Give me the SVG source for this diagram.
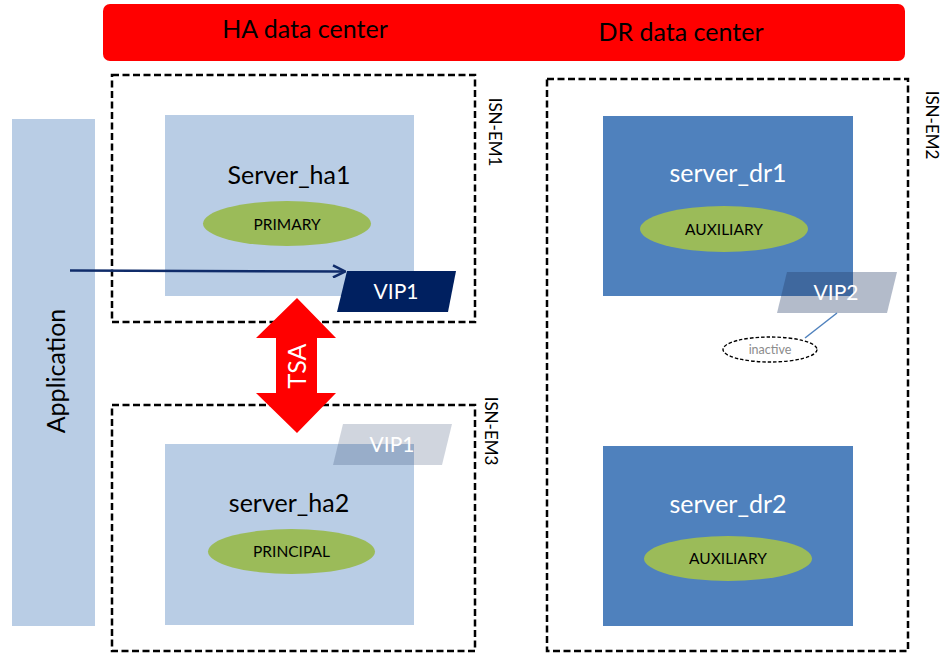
<svg xmlns="http://www.w3.org/2000/svg" width="946" height="653" viewBox="0 0 946 653">
  <defs>
    <style>
      text { font-family: Lato, "Open Sans", "Liberation Sans", sans-serif; }
      .zone { fill: none; stroke: #000; stroke-width: 2.5; stroke-dasharray: 7 3.5; }
      .zlabel { font-size: 17px; fill: #000; text-anchor: middle; dominant-baseline: central; }
      .ha { fill: #B9CDE5; }
      .dr { fill: #4F81BD; }
      .role { fill: #9BBB59; }
      .rtext { font-size: 15.5px; fill: #000; text-anchor: middle; }
      .title { font-size: 25px; text-anchor: middle; }
      .vip { font-size: 21px; fill: #fff; text-anchor: middle; }
    </style>
    <marker id="open" viewBox="0 0 14 14" refX="13" refY="7" markerWidth="14" markerHeight="14" markerUnits="userSpaceOnUse" orient="auto">
      <path d="M1 1 L13 7 L1 13" fill="none" stroke="#102C6A" stroke-width="2.5" stroke-linejoin="miter"/>
    </marker>
  </defs>

  <rect width="946" height="653" fill="#fff"/>

  <!-- banner -->
  <g id="banner">
    <rect x="103" y="4" width="802" height="57" rx="7" fill="#FF0000"/>
    <text x="305" y="38" font-size="25" text-anchor="middle" fill="#000">HA data center</text>
    <text x="681" y="41" font-size="25" text-anchor="middle" fill="#000">DR data center</text>
  </g>

  <!-- application -->
  <g id="application">
    <rect x="12" y="119" width="83" height="507" fill="#B9CDE5"/>
    <text transform="translate(55,371) rotate(-90)" font-size="25" text-anchor="middle" dominant-baseline="central" fill="#000">Application</text>
  </g>

  <!-- zones -->
  <g id="isn-em1">
    <rect class="zone" x="112" y="75" width="363" height="247"/>
    <text class="zlabel" transform="translate(495,132) rotate(90)">ISN-EM1</text>
  </g>
  <g id="isn-em3">
    <rect class="zone" x="112" y="405" width="363" height="246"/>
    <text class="zlabel" transform="translate(491,431) rotate(90)">ISN-EM3</text>
  </g>
  <g id="isn-em2">
    <rect class="zone" x="547" y="79" width="361" height="572"/>
    <text class="zlabel" transform="translate(932,125) rotate(90)">ISN-EM2</text>
  </g>

  <!-- HA servers -->
  <g id="server-ha1">
    <rect class="ha" x="165" y="115" width="249" height="181"/>
    <text class="title" x="289" y="184" fill="#000">Server_ha1</text>
    <ellipse class="role" cx="287" cy="223.5" rx="84" ry="22.5"/>
    <text class="rtext" x="287" y="230">PRIMARY</text>
  </g>
  <g id="server-ha2">
    <rect class="ha" x="165" y="444" width="249" height="181"/>
    <text class="title" x="289" y="512" fill="#000">server_ha2</text>
    <ellipse class="role" cx="291.5" cy="551.5" rx="83.5" ry="22.5"/>
    <text class="rtext" x="291.5" y="557">PRINCIPAL</text>
  </g>

  <!-- DR servers -->
  <g id="server-dr1">
    <rect class="dr" x="603" y="116" width="250" height="180"/>
    <text class="title" x="728" y="182" fill="#fff">server_dr1</text>
    <ellipse class="role" cx="724" cy="229" rx="84" ry="23"/>
    <text class="rtext" x="724" y="235">AUXILIARY</text>
  </g>
  <g id="server-dr2">
    <rect class="dr" x="603" y="446" width="250" height="180"/>
    <text class="title" x="728" y="513" fill="#fff">server_dr2</text>
    <ellipse class="role" cx="728" cy="558.5" rx="84" ry="22.5"/>
    <text class="rtext" x="728" y="564">AUXILIARY</text>
  </g>

  <!-- virtual IPs -->
  <g id="vip1-active">
    <polygon points="347,271 456,271 448,312 337,312" fill="#002060"/>
    <text class="vip" x="396" y="299">VIP1</text>
  </g>
  <g id="vip1-standby">
    <polygon points="343,424 452,424 442,465 333,465" fill="#1F3864" fill-opacity="0.21"/>
    <text class="vip" x="392" y="452">VIP1</text>
  </g>
  <g id="vip2">
    <polygon points="787,272 897,272 887,313 777,313" fill="#1F3864" fill-opacity="0.34"/>
    <text class="vip" x="836" y="300">VIP2</text>
  </g>
  <g id="inactive">
    <ellipse cx="770" cy="349.5" rx="47" ry="12.5" fill="#fff" stroke="#000" stroke-width="1.4" stroke-dasharray="3.5 2"/>
    <text x="770" y="354" font-size="12.5" text-anchor="middle" fill="#8C8C8C">inactive</text>
  </g>

  <!-- TSA replication -->
  <g id="tsa">
    <polygon points="297,298 336,338 317,338 317,393 336,393 297,433 256,393 276,393 276,338 256,338" fill="#FF0000"/>
    <text transform="translate(296,366) rotate(-90)" font-size="25" text-anchor="middle" dominant-baseline="central" fill="#fff">TSA</text>
  </g>

  <!-- connectors -->
  <g id="connectors">
    <line x1="70" y1="270.5" x2="345" y2="271.5" stroke="#102C6A" stroke-width="2.5" marker-end="url(#open)"/>
    <line x1="837" y1="313" x2="805" y2="338" stroke="#4F81BD" stroke-width="1.5"/>
  </g>
</svg>
